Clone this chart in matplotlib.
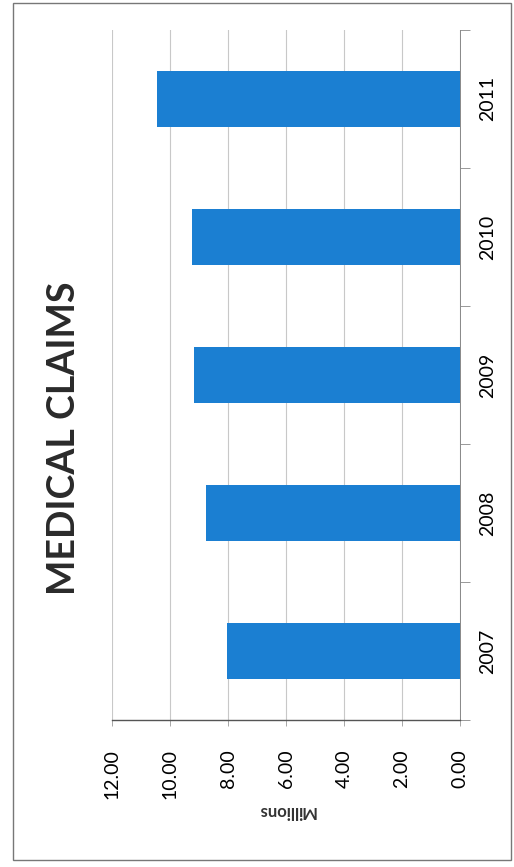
import numpy as np
import matplotlib.pyplot as plt
from matplotlib.patches import Rectangle

plt.rcParams["font.family"] = ["Lato", "DejaVu Sans"]

# data
years = ["2007", "2008", "2009", "2010", "2011"]
claims = [8.03, 8.76, 9.17, 9.24, 10.45]  # millions
value_ticks = [0, 2, 4, 6, 8, 10, 12]

bar_color = "#1b7fd2"

fig = plt.figure(figsize=(5.14, 8.67), dpi=100)
ax = fig.add_axes([0.218, 0.1695, 0.677, 0.796])

pos = np.arange(len(years))
ax.barh(pos, claims, height=0.4, color=bar_color, zorder=3)

ax.set_xlim(12, 0)
ax.set_ylim(-0.5, len(years) - 0.5)

# value axis at the bottom, labels turned sideways like the page
ax.set_xticks(value_ticks)
ax.set_xticklabels([f"{v:.2f}" for v in value_ticks], rotation=90,
                   fontsize=14, va="top", ha="center")
ax.tick_params(axis="x", length=4, width=0.6, color="#999999", pad=17)
ax.grid(axis="x", color="#c8c8c8", linewidth=0.8, zorder=0)
ax.set_xlabel("Millions", rotation=180, fontsize=12, fontweight="bold",
              labelpad=3, color="#333333")

# category axis on the right
ax.yaxis.tick_right()
ax.set_yticks(pos)
ax.set_yticklabels(years, rotation=90, fontsize=14, va="center", ha="left")
ax.set_yticks(np.arange(-0.5, len(years)), minor=True)
ax.tick_params(axis="y", which="major", length=0, pad=14)
ax.tick_params(axis="y", which="minor", length=7, width=0.6, color="#888888",
               direction="out")

for side in ["top", "left"]:
    ax.spines[side].set_visible(False)
ax.spines["right"].set_color("#888888")
ax.spines["right"].set_linewidth(0.7)
ax.spines["bottom"].set_color("#555555")
ax.spines["bottom"].set_linewidth(1.0)

fig.text(0.124, 0.495, "MEDICAL CLAIMS", rotation=90, fontsize=27,
         fontweight="bold", ha="center", va="center", color="#2a2a2a")

# page frame of the scan
fig.patches.append(Rectangle((0.025, 0.008), 0.97, 0.988, transform=fig.transFigure,
                             fill=False, edgecolor="#777777", linewidth=1.0))

fig.savefig("out.png", dpi=100)
